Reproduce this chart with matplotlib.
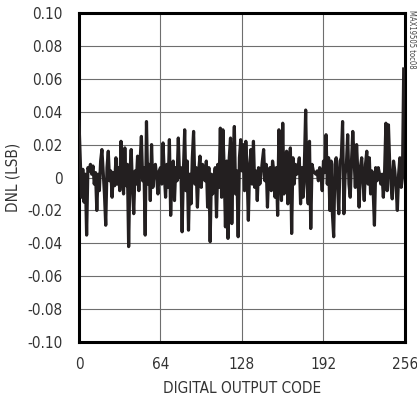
import matplotlib
matplotlib.use("Agg")
import matplotlib.pyplot as plt
import numpy as np

plt.rcParams['font.family'] = ['DejaVu Sans']
plt.rcParams['font.stretch'] = 'condensed'

# DNL per output code (codes 0..255)
dnl = [
    0.034, 0.010, -0.012, 0.005, -0.015, 0.002, -0.035, 0.006, 0.004, 0.008, 0.002, 0.007, -0.004, 0.003, -0.020, 0.002,
    -0.008, 0.010, 0.017, 0.004, -0.010, -0.029, 0.006, 0.016, -0.002, 0.004, -0.012, 0.003, -0.005, 0.012, -0.004, 0.006,
    -0.008, 0.022, 0.003, -0.010, 0.018, -0.005, 0.008, -0.042, 0.002, 0.017, -0.006, -0.022, 0.004, -0.004, 0.013, -0.008,
    0.010, 0.025, -0.002, 0.006, -0.035, 0.034, -0.004, 0.008, -0.014, 0.020, -0.006, 0.003, 0.008, 0.000, -0.010, 0.004,
    0.006, -0.004, 0.021, 0.002, -0.012, 0.008, -0.006, 0.023, -0.023, 0.004, 0.010, -0.014, 0.006, -0.002, 0.024, 0.000,
    0.006, -0.033, 0.004, 0.029, -0.008, 0.010, -0.032, 0.002, -0.016, 0.012, 0.028, -0.004, 0.006, -0.018, 0.004, 0.013,
    -0.006, 0.008, 0.004, -0.002, 0.010, -0.018, 0.006, -0.039, 0.002, -0.010, 0.000, 0.006, -0.024, 0.008, -0.006, 0.030,
    -0.012, 0.029, 0.006, -0.030, 0.010, -0.037, 0.012, 0.024, -0.028, 0.008, 0.031, -0.010, 0.004, -0.036, 0.012, 0.023,
    0.004, 0.020, -0.008, 0.022, 0.004, -0.026, 0.006, 0.017, -0.004, 0.022, -0.006, 0.004, -0.014, 0.006, -0.004, 0.002,
    0.010, 0.017, -0.002, 0.008, -0.018, 0.004, 0.006, -0.008, 0.010, 0.004, -0.012, 0.006, -0.023, 0.029, 0.004, -0.014,
    0.033, -0.010, 0.004, 0.016, -0.016, 0.008, 0.018, -0.034, 0.012, -0.004, 0.008, 0.002, 0.004, 0.012, -0.016, 0.006,
    -0.012, 0.008, 0.041, -0.004, -0.016, 0.022, -0.031, 0.008, 0.004, 0.003, 0.002, 0.004, -0.002, 0.006, 0.003, -0.008,
    0.010, 0.003, 0.026, -0.004, 0.012, -0.020, 0.010, -0.022, -0.036, 0.008, 0.012, -0.004, -0.022, 0.010, 0.012, 0.034,
    -0.022, 0.002, 0.008, 0.026, -0.004, -0.012, 0.010, 0.028, 0.012, -0.006, 0.020, 0.002, -0.018, 0.006, 0.012, -0.002,
    -0.014, 0.008, 0.016, -0.004, 0.012, -0.010, 0.004, -0.008, -0.029, 0.006, -0.002, 0.006, 0.002, -0.004, 0.002, -0.012,
    0.004, 0.033, -0.008, 0.032, 0.008, -0.004, -0.013, 0.010, 0.004, -0.006, -0.020, 0.002, 0.012, -0.006, 0.000, 0.066,
]
codes = np.arange(len(dnl))

x_ticks = [0, 64, 128, 192, 256]
y_ticks = [-0.10, -0.08, -0.06, -0.04, -0.02, 0, 0.02, 0.04, 0.06, 0.08, 0.10]
y_labels = ["-0.10", "-0.08", "-0.06", "-0.04", "-0.02", "0", "0.02", "0.04", "0.06", "0.08", "0.10"]

fig = plt.figure(figsize=(4.17, 3.98), dpi=100)
ax = fig.add_axes([0.1894, 0.1407, 0.7818, 0.8266])

ax.plot(codes, dnl, color='#231f20', lw=2.3, solid_joinstyle='round', zorder=3)

ax.set_xlim(0, 256)
ax.set_ylim(-0.10, 0.10)
ax.set_xticks(x_ticks)
ax.set_xticklabels([str(t) for t in x_ticks])
ax.set_yticks(y_ticks)
ax.set_yticklabels(y_labels)
ax.tick_params(length=0, labelsize=11, colors='#333333', pad=12)
ax.tick_params(axis='x', pad=11)
ax.grid(True, color='#6e6e6e', lw=0.8)
ax.set_axisbelow(True)
for s in ax.spines.values():
    s.set_linewidth(2.2)
    s.set_color('#000000')

ax.set_xlabel("DIGITAL OUTPUT CODE", fontsize=11, color='#333333', labelpad=6)
ax.set_ylabel("DNL (LSB)", fontsize=11, color='#333333', labelpad=5)

fig.text(0.988, 0.975, "MAX19505 toc08", rotation=-90, fontsize=5.5,
         color='#444444', ha='center', va='top')

fig.savefig("out.png", dpi=100)
